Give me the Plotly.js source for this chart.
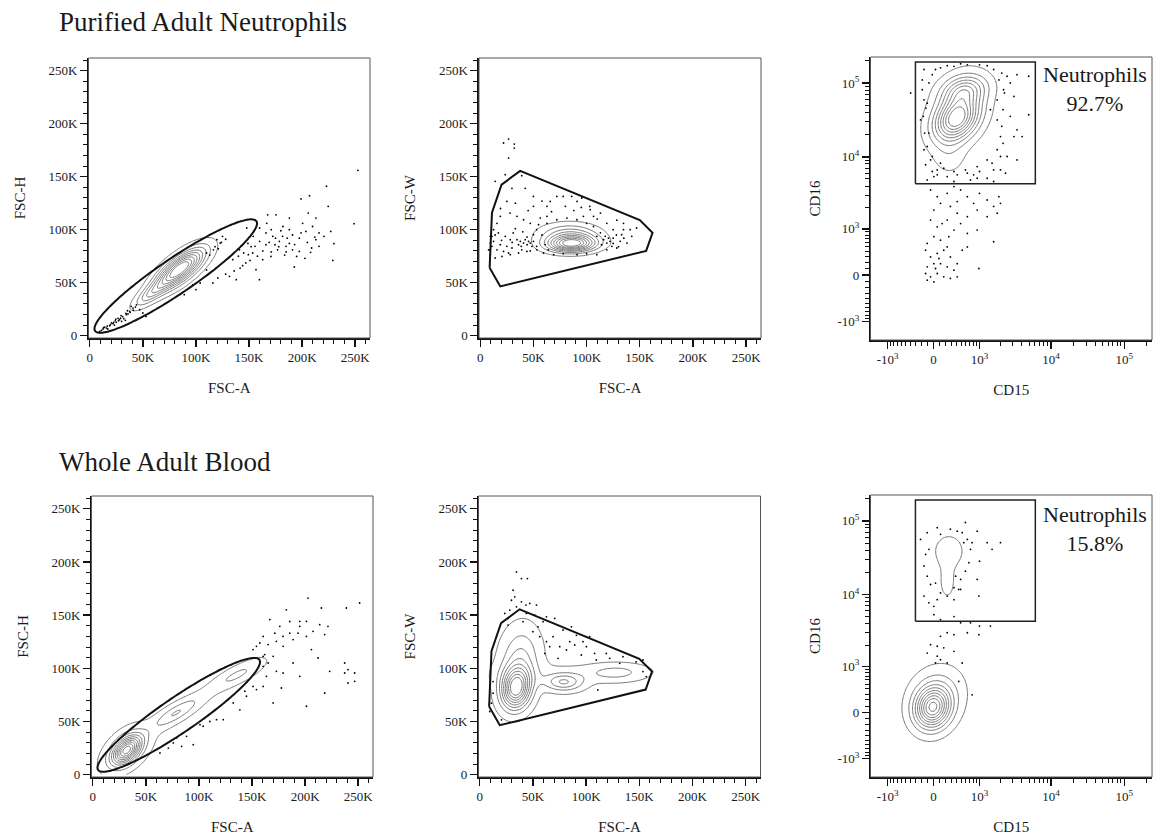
<!DOCTYPE html>
<html>
<head>
<meta charset="utf-8">
<script src="https://cdn.plot.ly/plotly-3.0.1.min.js"></script>
<style>html,body{margin:0;padding:0;background:#fff;}#chart{width:1154px;height:837px;}</style>
</head>
<body>
<div id="chart"></div>
<script>
// ------------------------------------------------------------------ text
const rowTitles = ['Purified Adult Neutrophils', 'Whole Adult Blood'];
const gateLabels = ['Neutrophils<br>92.7%', 'Neutrophils<br>15.8%'];
const axisTitles = {fscA: 'FSC-A', fscH: 'FSC-H', fscW: 'FSC-W', cd15: 'CD15', cd16: 'CD16'};

// ------------------------------------------------------------------ ticks
const fscTickVals = [0, 50, 100, 150, 200, 250];            // thousands
const fscTickText = ['0', '50K', '100K', '150K', '200K', '250K'];
const bexTickVals = [-1000, 0, 1000, 10000, 100000];
const bexTickText = ['-10<sup>3</sup>', '0', '10<sup>3</sup>', '10<sup>4</sup>', '10<sup>5</sup>'];
const bexMinorVals = [-900, -800, -700, -600, -500, -400, -300, -200, -100,
  100, 200, 300, 400, 500, 600, 700, 800, 900,
  2000, 3000, 4000, 5000, 6000, 7000, 8000, 9000,
  20000, 30000, 40000, 50000, 60000, 70000, 80000, 90000, 200000];
const BEX_COFACTOR = 500;   // biexponential (arcsinh) display cofactor

// ------------------------------------------------------------------ gates
const ellipseGateTipsA = [5, 157];     // FSC-A (K) of the two ends of the ellipse gate
const ellipseGateTipsH = [4.5, 108];   // FSC-H (K)
const ellipseGateHalfWidth = 16.5;     // K
const polyGateA = [8.8, 11, 20, 37.5, 150, 162, 156, 18.8];
const polyGateW = [64, 116, 142.5, 155.5, 109, 97, 80, 46.5];
const rectGateCD15 = [-300, 6100];
const rectGateCD16 = [4300, 192000];

// ------------------------------------------------------------------ populations (contours)
// FSC panels: centres and spreads in K; CD panels: centres in data units, spreads in display units
const p1Pop = {cx: [85, 58], cy: [63, 40], sx: [15, 11], sy: [12.5, 9], rho: [0.74, 0.8], w: [1, 0.3]};
const p2Pop = {cx: [86, 84], cy: [86.5, 95], sx: [15, 18], sy: [5, 7], rho: [0.05, 0], w: [1, 0.4]};
const p3Pop = {cx: [391, 560, 444, 260], cy: [32900, 80000, 45000, 9800], sx: [0.45, 0.45, 0.6, 0.35], sy: [0.45, 0.3, 0.8, 0.4], rho: [0.3, 0.2, 0.3, 0], w: [1, 0.5, 0.2, 0.1]};
const p4Pop = {cx: [32, 32, 78, 137, 95], cy: [23, 24, 58, 94, 68], sx: [9, 14, 14, 15, 35], sy: [9, 13, 9, 8.5, 24], rho: [0.45, 0.55, 0.8, 0.8, 0.97], w: [1, 0.18, 0.24, 0.16, 0.05]};
const p5Pop = {cx: [34, 38, 79, 128, 60], cy: [81, 108, 87, 96, 95], sx: [9, 12, 12, 20, 40], sy: [12.5, 20, 5.5, 5.5, 8], rho: [0.1, 0.1, 0, 0.05, 0], w: [1, 0.3, 0.38, 0.2, 0.05]};
const p6Pop = {cx: [-15, 50, 250, 222], cy: [70, 260, 39000, 14300], sx: [0.36, 0.55, 0.35, 0.2], sy: [0.42, 0.6, 0.38, 0.42], rho: [0.1, 0.15, 0, 0], w: [1, 0.25, 0.12, 0.09]};
const contourLevels = [
  {start: 0.06, end: 0.87, size: 0.1},
  {start: 0.06, end: 0.87, size: 0.1},
  {start: 0.06, end: 0.87, size: 0.1},
  {start: 0.03, end: 0.94, size: 0.1},
  {start: 0.04, end: 0.85, size: 0.1},
  {start: 0.05, end: 0.96, size: 0.1}
];

// ------------------------------------------------------------------ outlier events
// Purified, FSC-A vs FSC-H (K)
const p1Dots = [[252.6,156],[223,141],[207,132],[199,129],[224.6,122],[249,105.7],[230,86.8],[229,71],[192.7,64.8],[208,78.6],[213,90.6],[200.5,106],[188,100],[175.4,114],[167.6,114],[166,85.8],[159.8,52.8],[156.6,62.3],[147,68.6],[138,52.8],[131.6,56],[120.6,54.4],[116,49.7],[134.7,71.7],[141.6,63.8],[153.5,78],[160,89],[166,96.9],[172.4,93.7],[178.6,89],[184.9,84.3],[191,81],[197.4,92],[203.6,98.4],[209.9,103],[216,96.9],[191,95],[181.7,93.7],[176.9,81],[170.7,74.8],[162.9,71.7],[155.7,84.3],[149.4,76.4],[141,81],[149,87],[154,93.7],[160,101.6],[171,100],[182,103],[188,87],[194.9,74.8],[202.7,73],[209,82.7],[216,84.3],[220.6,93.7],[227,98.4],[213,111],[205.8,115.7],[188,111],[166.7,106],[147.9,101.6],[183.6,76],[197.4,79.5],[174.5,85.8],
  [116.5,81],[122.8,87.4],[119.7,90.6],[110,78],[125,93.7],[89,38.7],[100,43.4],[104,49.7],[97,48],[110,62],[118,84],[121,82],[124,88],[113,76],[128,91],
  [9.4,3.1],[12.5,6.3],[15.7,7.2],[18.8,9.4],[21.9,11.3],[25,12.6],[28,15],[31,18],[34.5,19.8],[37.6,23],[40.7,26],[39,27.7],[44,29],[34,21],[26.6,16.4],[20.4,12],[14,8],[30,13.5],[47,24.5],[50,21.4],[53,18],[9.4,4],[17,6.3],[23.2,10],[33.5,14.5],
  [11,5],[13,7.5],[16.5,9],[19.5,10.5],[22.5,12.5],[24,14],[27,14],[29,16.5],[32,16],[36,20.5],[38,22],[41,24],[43,27],[35.5,23.5],[29.5,19],[24.5,15.5],
  [145,78],[152,84],[158,75],[163,80],[169,88],[175,92],[180,99],[186,92],[193,86],[199,97],[205,88],[212,93],[171,79],[178,84],[185,79],[144,66],[151,71],[136,61],[128,58],[140,75]];
// Purified, FSC-A vs FSC-W (K)
const p2Dots = [[26.6,185.5],[21.9,181.8],[32,180.8],[32,177],[26.6,167.6],[14,145.6],[23.5,151.9],[39,151],[42.3,139],[29.8,139],[25,126.7],[50,131.4],[62.7,122],[72,131.4],[86,131.4],[91,126.7],[80,122],[103,122],[113,115.7],[128.4,109],[134.7,106],[141,100],[147,101.6],[133,95.3],[138,87.4],[128.4,82.7],[119,81],[109.6,76.4],[103.4,118.9],[97,112.6],[62.7,112.6],[56.4,111],[47,106],[40.7,109.4],[34.5,112.6],[28,115.7],[18.8,112.6],[15.7,106],[12.5,100],[11,93.7],[9.4,87.4],[7.8,81],[9.4,76.4],[14,73.3],[20.4,74.8],[28.2,76.4],[36,78],[43.9,79.5],[53.3,81],[59.5,78],[69,76.4],[78,77.4],[91,76.4],[100,77.4],
  [37.6,89],[40.7,87.4],[44,85.8],[47,87.4],[48.6,84.3],[42.3,90.6],[38.5,84.3],[45.4,89],[50,89],[36,85.8],[53,84.3],[34.5,90.6],
  [116,90.6],[119,87.4],[120.6,92],[122,89],[117.5,93.7],[123.7,84.3],[125,92],[114,85.8],
  [62.7,106],[72,109.4],[81.5,111],[90.9,109.4],[100,106],[106.5,103],[53,100],[109.6,93.7],[50,95.3],[54.8,104.7],
  [11,84.3],[12.5,89],[15.7,81],[18.8,85.8],[21.9,79.5],[25,84.3],[28.2,90.6],[23.5,93.7],[17,96.9],[31,96.9],[29.8,82.7],[26.6,78],[9.4,93.7],[8.8,81],
  [50,122],[65.8,126.7],[78,131.4],[95.5,129.9],[106.5,112.6],[119,106],[134.7,100],[142.5,93.7],[131.6,89],
  [19,120],[33,125],[45,118],[58,127],[67,117],[88,118],[95,121],[110,110],[125,100],[135,92],[128,95],[40,98],[33,101],[58,95],[44,93],[30,88],[20,90],[14,95],[39,81],[47,80],[125,87],[130,84],[113,97],[61,86],[64,81]];
// Purified, CD15 vs CD16
const p3Dots = [[-391,73200],[-152,152000],[-181,80900],[-100,53200],[-73,20950],[-152,12470],[-47,9060],[58,6640],[221,5390],[407,5690],[636,6000],[920,7370],[1300,9060],[1813,12470],[2015,18800],[1813,31600],[1813,59000],[1915,110000],[1610,152000],[1000,176000],[636,176000],[343,168000],[110,160000],[-20,129500],[2490,123200],[3420,129500],[4950,123200],[2760,35300],[3420,23200],[4950,37100],[3420,9060],[2490,10100],[2015,6640],[1300,5120],[720,4860],[5,5390],[-100,4860],[1450,43500],[-210,31600],[-126,7800],[110,8200],[2228,80900],[3100,65600],[4020,18800],[1610,4620],[343,4620],[2370,6000],[920,5120],[-20,6320],
  [-181,110000],[-152,59000],[-163,35300],[-142,20950],[-100,13800],[-20,10100],[163,7000],[343,6320],[588,6640],[1000,6320],[1530,8200],[2015,10100],[2190,15250],[2100,25900],[2190,43500],[2290,73200],[2100,136000],[1300,171500],[478,182000],[221,171500],[31,152000],[-73,100000],[-121,45700],[1610,6640],[810,5690],[58,5690],[2760,100000],[3100,18800],
  [-47,3550],[58,2870],[221,3190],[343,3940],[478,3550],[636,2870],[810,2320],[1000,3190],[1300,2580],[1610,2100],[1915,2870],[1813,1690],[1300,1510],[920,1870],[636,1510],[407,1690],[277,2100],[110,2320],[5,1870],[-47,1350],[58,1075],[221,1350],[343,960],[478,1200],[636,850],[920,960],[1610,620],[2015,2320],[110,660],[221,500],[5,755],[-100,580],[-126,430],[-47,300],[58,366],[163,430],[277,300],[407,184],[343,78],[221,131],[110,184],[5,184],[-100,131],[-126,26],[-47,-26],[58,26],[163,-26],[277,-50],[407,-26],[5,-105],[-100,-78],[31,105],[85,272],[978,105],[636,500],[513,430],[249,755],[137,1200],[407,2450]];
// Whole blood, FSC-A vs FSC-H (K)
const p4Dots = [[251.4,161.4],[238.9,156.7],[215.4,156.7],[202.8,166],[182.4,155],[166.8,145.8],[185.6,144],[195,139.5],[176.2,139.5],[171.5,133],[160.5,130],[157.4,123.8],[165.2,122.3],[173,125.4],[179.3,130],[185.6,133],[188.7,127],[193.4,133],[201.3,130],[207.5,134.8],[213.8,141],[218.5,131.7],[221.6,139.5],[206,117.6],[212.2,109.7],[223.2,97.2],[237.3,105],[237.3,95.6],[246.7,95.6],[246.7,87.8],[240.4,86.2],[218.5,76.8],[201.3,64.3],[195,92.5],[188.7,105],[179.3,95.6],[177.7,81.5],[169.9,67.4],[173,97.2],[165.2,105],[160.5,111.3],[154.2,120.7],[151,117.6],[163.6,92.5],[160.5,83],[154.2,80],[151,83],[144.8,73.7],[138.6,61],[116.6,51.7],[110.3,50],[104,45.5],[94.7,28.2],[83.7,26.6],[75.9,29.8],[71.2,25],[79,34.5],[63.3,20.4],[88.4,36],[101,47],[122.9,51.7],[132.3,67.4],[143.3,78.4],[162,112.9],[160.5,101.9],[169.9,111.3],[179.3,120.7],[195,144.2],[201.3,144.2],[240.4,98.7]];
// Whole blood, FSC-A vs FSC-W (K)
const p5Dots = [[34.5,190.6],[39.2,184.4],[44.8,184.4],[31.3,173.4],[32.9,167.2],[29.8,164],[39.2,162.5],[43.5,159.4],[47,161],[53.3,159.4],[34.5,157.8],[28.2,154.7],[23.5,151.6],[26.6,146.9],[43.9,151.6],[51.7,150],[62.7,148.4],[70.5,146.9],[59.5,143.8],[54.8,139],[50,134.4],[56.4,129.7],[62.7,125],[65.8,120.3],[61.1,114],[78.3,136],[86.2,139],[90.9,131],[84.6,125],[75.2,120.3],[81.5,117.2],[89.3,121.9],[100.3,120.3],[103.4,129.7],[108,114],[119,114],[134.7,110.9],[147,106],[153.5,96.9],[156.6,92.2],[111,79.7],[9.4,59.4],[20.4,51.6],[11,67.2],[12.5,87.5],[12.5,76.6],[153.5,107.8],[26.6,140.6],[40.7,143.8],[97.1,125],[68.9,129.7],[73.6,109.4],[95.5,112.5],[109.6,107.8],[122.2,109.4],[131.6,104.7]];
// Whole blood, CD15 vs CD16
const p6Dots = [[-210,56000],[-100,69000],[-73,41000],[-126,35000],[-152,24400],[-100,17700],[-47,13650],[-152,9500],[-73,7700],[5,6900],[58,8500],[110,10500],[221,9500],[343,8500],[437,11700],[478,16000],[588,20700],[676,27000],[720,41000],[636,56000],[513,69000],[407,72500],[277,77000],[110,65600],[920,72500],[1300,50500],[1530,41000],[2015,50500],[1000,28300],[920,16000],[978,9500],[58,80900],[588,95000],[31,14300],[343,12350],[550,50500],[765,50500],[478,11700],[375,17700],
  [5,5300],[110,4530],[343,5000],[478,4110],[720,4110],[1000,3700],[1450,3700],[978,2820],[636,3000],[343,2820],[221,3000],[110,2680],[58,1950],[163,1850],[-47,2050],[-100,1560],[58,1410],[110,1250],[343,1650],[513,1120],[765,290],[437,565],[221,1120],[31,1120]];

// ------------------------------------------------------------------ helpers
const W = 1154, H = 837;
const SERIF = 'Liberation Serif, Times New Roman, serif';
const INK = '#1a1a1a';
const bex = v => Math.asinh(v / BEX_COFACTOR);

// plot boxes in pixels [left, right, top, bottom]
const boxes = [[88.5, 370, 58, 338], [479, 761, 58, 338], [870.5, 1152, 57, 340],
               [91.5, 373, 496, 777], [478.5, 760.5, 496, 777], [870.5, 1152, 495, 777]];
const FSC_RX = [-1.2, 264], FSC_RY = [-2.2, 262];
const BEX_RX = [-1.98, 6.86], BEX_RY = [-2.02, 6.8];

function grid(r, step) { const a = []; for (let v = r[0]; v <= r[1] + 1e-9; v += step) a.push(+v.toFixed(4)); return a; }

function densityGrid(pop, xs, ys, mapC) {
  const n = pop.cx.length;
  const cx = pop.cx.map(mapC ? mapC : (v => v)), cy = pop.cy.map(mapC ? mapC : (v => v));
  let zmax = 0;
  const z = ys.map(y => xs.map(x => {
    let s = 0;
    for (let i = 0; i < n; i++) {
      const dx = (x - cx[i]) / pop.sx[i], dy = (y - cy[i]) / pop.sy[i], r = pop.rho[i];
      const q = (dx * dx - 2 * r * dx * dy + dy * dy) / (1 - r * r);
      s += pop.w[i] * Math.exp(-q / 2);
    }
    if (s > zmax) zmax = s;
    return s;
  }));
  return z.map(row => row.map(v => v / zmax));
}

const traces = [];
function axId(i) { return i === 0 ? '' : String(i + 1); }

function addContour(i, pop, isBex) {
  const xs = isBex ? grid(BEX_RX, 0.04) : grid([0, 264], 1.5);
  const ys = isBex ? grid(BEX_RY, 0.04) : grid([0, 262], 1.5);
  const z = densityGrid(pop, xs, ys, isBex ? bex : null);
  const L = contourLevels[i];
  traces.push({
    type: 'contour', x: xs, y: ys, z: z, xaxis: 'x' + axId(i), yaxis: 'y' + axId(i),
    showscale: false, autocontour: false, hoverinfo: 'skip',
    contours: {coloring: 'none', start: L.start, end: L.end, size: L.size},
    line: {color: '#777', width: 1, smoothing: 1}
  });
}
function addDots(i, dots, isBex) {
  traces.push({
    type: 'scatter', mode: 'markers', xaxis: 'x' + axId(i), yaxis: 'y' + axId(i),
    x: dots.map(d => isBex ? bex(d[0]) : d[0]), y: dots.map(d => isBex ? bex(d[1]) : d[1]),
    marker: {size: 1.8, color: '#000'}, hoverinfo: 'skip'
  });
}
function addEllipseGate(i) {
  const cx = (ellipseGateTipsA[0] + ellipseGateTipsA[1]) / 2, cy = (ellipseGateTipsH[0] + ellipseGateTipsH[1]) / 2;
  const dx = ellipseGateTipsA[1] - ellipseGateTipsA[0], dy = ellipseGateTipsH[1] - ellipseGateTipsH[0];
  const a = Math.hypot(dx, dy) / 2, b = ellipseGateHalfWidth, phi = Math.atan2(dy, dx);
  const xs = [], ys = [];
  for (let k = 0; k <= 180; k++) {
    const t = 2 * Math.PI * k / 180;
    xs.push(cx + a * Math.cos(t) * Math.cos(phi) - b * Math.sin(t) * Math.sin(phi));
    ys.push(cy + a * Math.cos(t) * Math.sin(phi) + b * Math.sin(t) * Math.cos(phi));
  }
  traces.push({type: 'scatter', mode: 'lines', x: xs, y: ys, xaxis: 'x' + axId(i), yaxis: 'y' + axId(i),
    line: {color: '#111', width: 2, shape: 'spline'}, hoverinfo: 'skip'});
}
function addPolyGate(i) {
  traces.push({type: 'scatter', mode: 'lines', xaxis: 'x' + axId(i), yaxis: 'y' + axId(i),
    x: polyGateA.concat([polyGateA[0]]), y: polyGateW.concat([polyGateW[0]]),
    line: {color: '#111', width: 2}, hoverinfo: 'skip'});
}
function addRectGate(i) {
  const x0 = bex(rectGateCD15[0]), x1 = bex(rectGateCD15[1]), y0 = bex(rectGateCD16[0]), y1 = bex(rectGateCD16[1]);
  traces.push({type: 'scatter', mode: 'lines', xaxis: 'x' + axId(i), yaxis: 'y' + axId(i),
    x: [x0, x1, x1, x0, x0], y: [y0, y0, y1, y1, y0],
    line: {color: '#222', width: 1.5}, hoverinfo: 'skip'});
}

// panels
addContour(0, p1Pop, false); addDots(0, p1Dots, false); addEllipseGate(0);
addContour(1, p2Pop, false); addDots(1, p2Dots, false); addPolyGate(1);
addContour(2, p3Pop, true);  addDots(2, p3Dots, true);  addRectGate(2);
addContour(3, p4Pop, false); addDots(3, p4Dots, false); addEllipseGate(3);
addContour(4, p5Pop, false); addDots(4, p5Dots, false); addPolyGate(4);
addContour(5, p6Pop, true);  addDots(5, p6Dots, true);  addRectGate(5);

// ------------------------------------------------------------------ layout
const tickFont = {family: SERIF, size: 13, color: INK};
const titleFont = {family: SERIF, size: 15, color: INK};
const layout = {
  width: W, height: H, margin: {l: 0, r: 0, t: 0, b: 0},
  paper_bgcolor: '#fff', plot_bgcolor: '#fff', showlegend: false,
  annotations: [], shapes: []
};
const panelTitles = [['fscA', 'fscH'], ['fscA', 'fscW'], ['cd15', 'cd16'], ['fscA', 'fscH'], ['fscA', 'fscW'], ['cd15', 'cd16']];
boxes.forEach((bx, i) => {
  const isBex = (i === 2 || i === 5);
  const xd = [bx[0] / W, bx[1] / W], yd = [1 - bx[3] / H, 1 - bx[2] / H];
  const common = {
    showgrid: false, zeroline: false, showline: true, linecolor: '#111', linewidth: 1.6,
    ticks: 'outside', ticklen: 7, tickwidth: 1.4, tickcolor: '#111', tickfont: tickFont,
    tickmode: 'array', fixedrange: true
  };
  const minor = isBex
    ? {tickmode: 'array', tickvals: bexMinorVals.map(bex), ticklen: 4, tickwidth: 1, tickcolor: '#111', ticks: 'outside'}
    : {tickmode: 'linear', tick0: 0, dtick: 10, ticklen: 4, tickwidth: 1, tickcolor: '#111', ticks: 'outside'};
  const xa = Object.assign({}, common, {
    domain: xd, anchor: 'y' + axId(i),
    range: isBex ? BEX_RX : FSC_RX,
    tickvals: isBex ? bexTickVals.map(bex) : fscTickVals,
    ticktext: isBex ? bexTickText : fscTickText,
    minor: minor,
    title: {text: axisTitles[panelTitles[i][0]], font: titleFont, standoff: 18}
  });
  const ya = Object.assign({}, common, {
    domain: yd, anchor: 'x' + axId(i),
    range: isBex ? BEX_RY : FSC_RY,
    tickvals: isBex ? bexTickVals.map(bex) : fscTickVals,
    ticktext: isBex ? bexTickText : fscTickText,
    minor: minor,
    title: {text: axisTitles[panelTitles[i][1]], font: titleFont, standoff: isBex ? 13 : 19}
  });
  layout['xaxis' + axId(i)] = xa;
  layout['yaxis' + axId(i)] = ya;
  layout.shapes.push({type: 'rect', xref: 'x' + axId(i) + ' domain', yref: 'y' + axId(i) + ' domain',
    x0: 0, x1: 1, y0: 0, y1: 1, line: {color: '#555', width: 1}});
});

// row titles
layout.annotations.push({text: rowTitles[0], xref: 'paper', yref: 'paper', x: 57 / W, y: 1 - 22 / H,
  xanchor: 'left', yanchor: 'middle', showarrow: false, font: {family: SERIF, size: 27, color: INK}});
layout.annotations.push({text: rowTitles[1], xref: 'paper', yref: 'paper', x: 57 / W, y: 1 - 462 / H,
  xanchor: 'left', yanchor: 'middle', showarrow: false, font: {family: SERIF, size: 27, color: INK}});
// gate labels
layout.annotations.push({text: gateLabels[0], xref: 'paper', yref: 'paper', x: 1095 / W, y: 1 - 89 / H,
  xanchor: 'center', yanchor: 'middle', showarrow: false, font: {family: SERIF, size: 22, color: INK}});
layout.annotations.push({text: gateLabels[1], xref: 'paper', yref: 'paper', x: 1095 / W, y: 1 - 529 / H,
  xanchor: 'center', yanchor: 'middle', showarrow: false, font: {family: SERIF, size: 22, color: INK}});

Plotly.newPlot('chart', traces, layout, {displayModeBar: false, staticPlot: true});
</script>
</body>
</html>
